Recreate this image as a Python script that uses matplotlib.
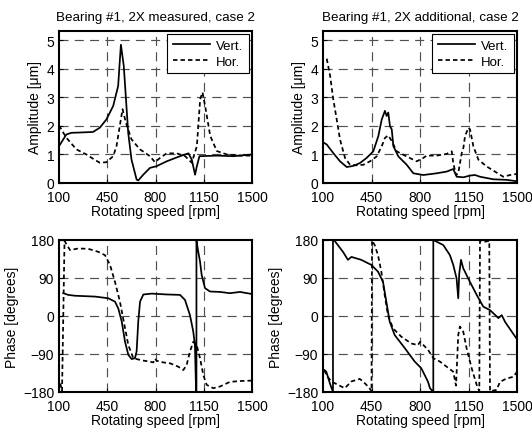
import matplotlib
matplotlib.use("Agg")
import matplotlib.pyplot as plt

plt.rcParams['font.family'] = ['Liberation Sans', 'DejaVu Sans']
plt.rcParams['lines.scale_dashes'] = False

# ---------------- data ----------------
# Amplitude, 2X measured, case 2
rpm_m_v = [100, 153, 190, 250, 347, 396, 444, 493, 529, 549, 570, 602, 626, 663, 675, 711, 760, 808, 881, 978, 1039, 1063, 1087, 1100, 1119, 1245, 1366, 1500]
amp_m_v = [1.29, 1.7, 1.76, 1.77, 1.79, 1.94, 2.23, 2.7, 3.4, 4.85, 4.1, 1.76, 0.82, 0.12, 0.09, 0.29, 0.53, 0.59, 0.76, 0.94, 1.04, 0.82, 0.29, 0.59, 0.94, 0.96, 0.94, 1.0]
rpm_m_h = [100, 153, 226, 299, 347, 396, 444, 493, 517, 541, 561, 585, 626, 687, 760, 796, 833, 881, 954, 1015, 1063, 1100, 1124, 1141, 1160, 1197, 1245, 1318, 1415, 1500]
amp_m_h = [2.02, 1.59, 1.18, 1.0, 0.85, 0.71, 0.73, 0.94, 1.29, 2.0, 2.59, 2.12, 1.53, 1.18, 0.94, 0.73, 0.88, 1.04, 1.04, 0.94, 0.71, 1.29, 2.94, 3.18, 2.7, 1.65, 1.12, 1.0, 0.96, 0.96]

# Amplitude, 2X additional, case 2
rpm_a_v = [110, 127, 174, 223, 271, 319, 367, 415, 463, 499, 524, 547, 559, 571, 583, 596, 608, 644, 704, 752, 824, 920, 992, 1040, 1065, 1113, 1161, 1197, 1233, 1329, 1426, 1500]
amp_a_v = [1.4, 1.35, 1.05, 0.76, 0.56, 0.6, 0.7, 0.88, 1.11, 1.64, 2.23, 2.53, 2.35, 2.47, 2.0, 1.88, 1.29, 0.93, 0.64, 0.34, 0.28, 0.34, 0.4, 0.49, 0.22, 0.2, 0.26, 0.28, 0.22, 0.13, 0.11, 0.06]
rpm_a_h = [127, 151, 174, 199, 223, 259, 295, 343, 391, 439, 487, 524, 547, 571, 596, 632, 704, 776, 824, 848, 920, 992, 1029, 1040, 1060, 1076, 1101, 1113, 1125, 1149, 1161, 1185, 1221, 1281, 1341, 1401, 1450, 1500]
amp_a_h = [4.36, 3.77, 2.94, 2.23, 1.52, 0.88, 0.64, 0.62, 0.64, 0.76, 0.93, 1.29, 1.58, 1.67, 1.47, 1.11, 0.93, 0.76, 0.88, 0.96, 0.96, 1.02, 1.11, 0.7, 0.28, 0.34, 1.05, 1.23, 1.64, 1.94, 1.88, 1.29, 0.82, 0.58, 0.40, 0.22, 0.28, 0.32]

# Phase, 2X measured, case 2
rpm_pm_v = [131, 167, 215, 361, 458, 506, 530, 555, 579, 603, 627, 651, 663, 675, 688, 712, 772, 881, 978, 1014, 1050, 1074, 1086, 1094, 1097, 1097, 1106, 1123, 1135, 1159, 1195, 1268, 1340, 1413, 1500]
deg_pm_v = [54, 50, 48, 46, 42, 34, 18, -13, -61, -92, -102, -100, -84, -13, 34, 51, 53, 51, 50, 38, 2, -37, -69, -175, -180, 180, 160, 129, 97, 66, 58, 57, 54, 57, 52]
rpm_pm_h = [110, 122, 140, 180, 240, 313, 385, 434, 470, 506, 542, 579, 603, 639, 700, 758, 784, 796, 808, 857, 905, 965, 1002, 1026, 1050, 1074, 1099, 1123, 1147, 1171, 1219, 1268, 1340, 1413, 1500]
deg_pm_h = [-160, -178, 178, 156, 160, 159, 152, 144, 121, 81, 34, -29, -69, -100, -105, -108, -110, -101, -106, -110, -112, -120, -128, -116, -84, -61, -69, -100, -140, -163, -171, -167, -156, -154, -153]

# Phase, 2X additional, case 2
rpm_pa_v = [110, 124, 150, 172, 172, 184, 244, 280, 305, 376, 449, 497, 533, 557, 581, 617, 690, 762, 810, 858, 872, 896, 896, 908, 968, 1016, 1040, 1064, 1076, 1083, 1096, 1112, 1160, 1209, 1257, 1305, 1366, 1390, 1414, 1462, 1500]
deg_pa_v = [-128, -132, -160, -180, 180, 178, 152, 133, 140, 133, 121, 105, 81, 34, -13, -45, -76, -108, -124, -156, -171, -180, 180, 178, 168, 144, 121, 89, 42, 100, 133, 113, 81, 50, 22, 14, -5, 2, -14, -37, -55]
rpm_pa_h = [110, 124, 160, 208, 257, 305, 365, 389, 425, 444, 450, 454, 473, 497, 521, 545, 569, 605, 665, 737, 785, 801, 858, 896, 944, 992, 1040, 1060, 1076, 1088, 1112, 1136, 1173, 1209, 1228, 1233, 1269, 1300, 1305, 1353, 1377, 1425, 1474, 1500]
deg_pa_h = [-128, -140, -155, -163, -171, -155, -149, -155, -167, -175, -179, 179, 168, 144, 105, 50, 2, -29, -49, -65, -69, -61, -80, -100, -108, -120, -132, -165, -45, -25, -37, -76, -124, -163, -178, 178, 176, 178, -178, -175, -156, -148, -144, -132]

titles = ["Bearing #1, 2X measured, case 2", "Bearing #1, 2X additional, case 2"]
x_ticks = [100, 450, 800, 1150, 1500]
amp_ticks = [0, 1, 2, 3, 4, 5]
phase_ticks = [-180, -90, 0, 90, 180]
legend_labels = ["Vert.", "Hor."]

# ---------------- figure ----------------
W, H = 532, 435
fig = plt.figure(figsize=(W / 100, H / 100), dpi=100)

def px_axes(l, t, r, b):
    return fig.add_axes([l / W, 1 - b / H, (r - l) / W, (b - t) / H])

ax_tl = px_axes(59, 32, 252, 184)
ax_tr = px_axes(323, 32, 517, 184)
ax_bl = px_axes(59, 241, 252, 393)
ax_br = px_axes(323, 241, 517, 393)

solid_kw = dict(color='black', lw=1.25, linestyle='-')
dash_kw = dict(color='black', lw=1.25, linestyle=(0, (3.2, 2.2)))
grid_kw = dict(color='#505050', lw=0.85, linestyle=(0, (6.5, 4.5)))

def style(ax, yticks, ylim):
    ax.set_xlim(100, 1500)
    ax.set_ylim(*ylim)
    ax.set_xticks(x_ticks)
    ax.set_yticks(yticks)
    ax.tick_params(direction='in', length=3, width=0.8, labelsize=10,
                   top=False, right=False)
    ax.tick_params(axis='x', pad=5.3)
    ax.tick_params(axis='y', pad=3.5)
    for s in ax.spines.values():
        s.set_linewidth(1.5)
    for v in x_ticks[1:-1]:
        ax.axvline(v, zorder=0, **grid_kw)
    for v in yticks[1:]:
        if v < ylim[1]:
            ax.axhline(v, zorder=0, **grid_kw)
    ax.set_xlabel("Rotating speed [rpm]", fontsize=10, labelpad=0)

# top-left
ax_tl.plot(rpm_m_v, amp_m_v, label=legend_labels[0], **solid_kw)
ax_tl.plot(rpm_m_h, amp_m_h, label=legend_labels[1], **dash_kw)
style(ax_tl, amp_ticks, (0, 5.33))
ax_tl.set_ylabel("Amplitude [\u03bcm]", fontsize=10, labelpad=3)
ax_tl.set_title(titles[0], fontsize=9.6, pad=8)

# top-right
ax_tr.plot(rpm_a_v, amp_a_v, label=legend_labels[0], **solid_kw)
ax_tr.plot(rpm_a_h, amp_a_h, label=legend_labels[1], **dash_kw)
style(ax_tr, amp_ticks, (0, 5.33))
ax_tr.set_ylabel("Amplitude [\u03bcm]", fontsize=10, labelpad=3)
ax_tr.set_title(titles[1], fontsize=9.6, pad=8)

for ax in (ax_tl, ax_tr):
    leg = ax.legend(loc='upper right', fontsize=9.5, frameon=True, fancybox=False,
                    edgecolor='black', framealpha=1, borderaxespad=0.25,
                    handlelength=2.8, handletextpad=0.5, borderpad=0.4,
                    labelspacing=0.3)
    leg.get_frame().set_linewidth(0.8)

# bottom-left
ax_bl.plot(rpm_pm_v, deg_pm_v, **solid_kw)
ax_bl.plot(rpm_pm_h, deg_pm_h, **dash_kw)
style(ax_bl, phase_ticks, (-180, 180))
ax_bl.set_ylabel("Phase [degrees]", fontsize=10, labelpad=3)

# bottom-right
ax_br.plot(rpm_pa_v, deg_pa_v, **solid_kw)
ax_br.plot(rpm_pa_h, deg_pa_h, **dash_kw)
style(ax_br, phase_ticks, (-180, 180))
ax_br.set_ylabel("Phase [degrees]", fontsize=10, labelpad=3)

fig.savefig("out.png", dpi=100)
